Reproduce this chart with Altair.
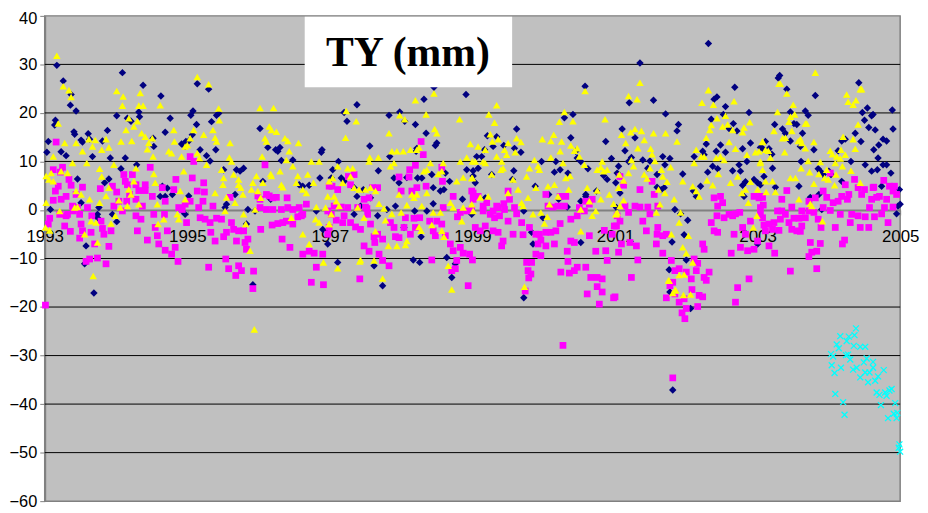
import altair as alt
import pandas as pd

# ---------------- data (year, TY mm) ----------------
navy = [
(1993.17,29.8),(1993.26,26.6),(1993.37,23.8),(1993.36,21.6),(1993.44,20.4),(1993.15,18.5),(1993.14,17.5),(1993.05,14.1),(1993.03,11.9),(1993.23,12.0),
(1993.30,11.2),(1993.41,16.1),(1993.42,15.6),(1993.51,14.4),(1993.53,14.0),(1993.61,15.7),(1993.63,14.6),(1993.67,11.0),(1993.81,14.2),(1993.88,16.4),
(1993.92,10.7),(1994.01,19.4),(1994.09,28.3),(1994.13,10.7),(1994.16,18.9),(1994.21,18.3),(1994.29,9.3),(1994.32,20.2),(1994.38,25.7),(1994.33,19.2),
(1994.53,13.1),(1994.52,14.8),(1994.63,23.5),(1994.69,16.0),(1994.76,18.9),(1994.92,13.6),(1994.98,14.1),(1993.46,6.4),(1993.51,1.5),(1993.08,0.1),
(1993.74,-0.9),(1993.76,0.5),(1993.74,-1.6),(1993.84,5.6),(1993.90,6.4),(1994.01,-2.4),(1993.95,-0.9),(1994.07,8.5),(1994.69,2.8),(1994.72,4.5),
(1994.65,4.9),(1994.79,3.2),(1994.97,-0.9),(1994.93,-0.2),(1993.58,-7.4),(1993.56,-11.1),(1993.69,-17.1),(1994.62,2.8),
(1995.14,26.0),(1995.30,24.9),(1995.08,20.4),(1995.05,19.5),(1995.44,19.9),(1995.41,19.5),(1995.13,17.6),(1995.34,18.2),(1995.07,15.5),(1995.02,14.2),
(1995.18,12.4),(1995.27,11.2),(1995.32,10.1),(1995.40,12.4),(1994.97,13.1),(1996.02,16.8),(1996.13,12.9),(1996.24,12.4),(1996.27,12.1),(1996.32,10.2),
(1996.30,12.9),(1996.48,10.3),(1996.89,12.4),(1996.88,11.9),(1996.86,6.6),(1995.69,8.3),(1995.74,8.0),(1995.51,8.3),(1995.67,3.2),(1995.55,1.2),
(1995.53,0.5),(1995.02,2.9),(1995.85,0.1),(1995.95,-0.2),(1995.83,-2.9),(1996.71,5.1),(1996.62,4.9),(1996.57,5.2),(1996.81,-0.2),(1996.90,-4.0),
(1996.97,-7.0),(1995.92,-15.4),(1996.06,5.9),(1996.17,2.2),(1995.79,8.6),
(1997.38,21.7),(1997.24,18.3),(1997.20,20.1),(1998.46,25.3),(1998.32,22.8),(1997.98,20.2),(1997.83,19.5),(1998.20,17.6),(1998.05,18.3),(1998.35,15.8),
(1998.50,13.8),(1998.48,13.3),(1998.91,23.8),(1997.56,13.2),(1997.84,11.0),(1998.22,12.7),(1998.21,12.1),(1997.68,8.1),(1997.12,10.0),(1997.04,8.3),
(1997.02,6.6),(1997.16,6.6),(1997.20,5.9),(1997.34,4.6),(1997.47,4.2),(1997.38,2.8),(1997.57,2.5),(1997.90,6.6),(1997.97,5.6),(1998.08,6.7),
(1998.23,6.6),(1998.29,6.6),(1998.43,7.3),(1998.45,4.6),(1998.62,7.6),(1998.68,5.9),(1998.55,3.9),(1998.60,4.2),(1998.86,2.2),(1998.92,8.3),
(1999.01,8.1),(1999.04,5.6),(1997.34,-0.9),(1997.43,0.8),(1997.67,-1.2),(1997.80,0.1),(1997.92,0.8),(1998.04,-3.6),(1998.19,-0.2),(1998.28,-5.5),
(1998.36,-0.2),(1998.45,1.3),(1997.11,-10.8),(1997.62,-11.5),(1997.74,-15.6),(1998.17,-10.3),(1998.26,-10.8),(1998.64,-9.8),(1998.76,-11.1),(1998.71,-13.9),
(2000.58,25.5),(1999.62,16.7),(1999.21,15.3),(1999.34,15.1),(1999.17,12.4),(1999.06,11.0),(1999.13,11.0),(1999.29,13.1),(1999.44,13.3),(1999.59,12.7),
(1999.68,11.9),(2000.38,14.9),(2000.29,19.0),(2000.41,19.7),(2000.87,14.1),(2000.95,10.6),(1999.97,10.0),(2000.17,10.0),(2000.23,8.3),(2000.47,10.7),
(2000.52,10.0),(2000.45,12.1),(2000.62,8.5),(2000.34,7.6),(2000.15,7.8),(1999.58,8.1),(1999.27,7.3),(1999.08,8.6),(1999.01,7.0),(1999.56,6.3),
(1999.88,4.9),(2000.07,3.2),(2000.21,2.2),(2000.33,0.6),(2000.59,3.2),(2000.74,3.9),(2000.84,7.1),(2000.89,6.3),(2001.01,5.6),(2001.03,7.6),
(2001.06,7.0),(1999.18,2.5),(1999.72,-0.2),(2000.52,1.8),(2000.59,2.8),(1999.99,-1.6),(1999.83,-4.6),(1999.85,-7.0),(2000.52,-6.7),(1998.99,-0.9),
(1999.72,-18.1),
(2001.35,30.3),(2002.31,34.3),(2001.20,22.1),(2001.54,22.6),(2001.71,19.8),(2001.89,17.6),(2001.87,16.3),(2002.68,25.3),(2002.43,23.3),(2002.39,22.8),
(2002.55,21.3),(2002.52,19.7),(2002.66,17.8),(2002.60,16.8),(2002.88,20.1),(2002.71,16.3),(2002.90,13.8),(2002.35,18.7),(2002.28,13.6),(2002.23,12.1),
(2002.42,12.1),(2002.48,13.4),(2002.55,11.9),(2002.79,12.6),(2002.25,11.4),(2002.11,11.0),(2002.85,10.0),(2003.04,12.9),(2001.10,16.7),(2001.28,14.9),
(2001.14,12.2),(2001.19,10.0),(2001.23,10.8),(2001.39,10.3),(2001.49,10.1),(2001.67,11.0),(2001.77,10.6),(2001.70,9.3),(2001.46,8.6),(2001.59,7.3),
(2001.65,4.2),(2001.59,4.7),(2001.95,7.4),(2001.84,0.1),(2001.92,-0.8),(2002.02,-2.1),(2001.69,4.6),(2002.20,4.9),(2002.10,3.9),(2002.14,2.8),
(2002.30,7.8),(2002.37,9.0),(2002.44,8.5),(2002.65,8.1),(2002.74,9.3),(2002.76,8.0),(2002.83,5.8),(2002.79,5.1),(2002.81,2.8),(2002.95,6.3),
(2003.00,5.6),(2001.05,9.0),(2001.07,3.5),(2001.02,0.5),(2001.80,-6.6),(2001.97,-5.1),(2002.00,-10.3),(2003.00,-7.0),(2001.77,-16.9),(2002.06,-20.3),
(2001.81,-37.1),(2001.76,-12.3),
(2003.31,27.7),(2003.29,27.2),(2003.41,24.9),(2003.81,23.6),(2004.42,26.2),(2004.54,21.0),(2004.47,20.1),(2004.50,18.5),(2004.60,19.4),(2004.62,19.7),
(2004.89,20.6),(2004.90,16.7),(2004.56,17.0),(2004.65,16.5),(2004.37,15.8),(2004.45,14.1),(2004.76,14.6),(2004.81,14.2),(2004.70,13.4),(2004.63,12.4),
(2004.69,10.7),(2004.51,9.3),(2004.60,8.0),(2004.68,8.3),(2004.76,9.3),(2004.81,9.3),(2004.87,7.6),(2004.74,4.9),(2004.99,4.2),(2004.97,0.8),
(2005.00,1.2),(2004.95,-0.8),(2003.46,20.2),(2003.67,20.4),(2003.71,19.5),(2003.51,17.8),(2003.55,17.6),(2003.24,17.6),(2003.35,16.7),(2003.39,15.8),
(2003.63,15.8),(2003.46,14.2),(2003.11,14.1),(2003.07,12.7),(2003.16,12.6),(2003.20,11.5),(2003.60,13.1),(2003.79,12.4),(2003.21,8.6),(2003.61,10.0),
(2003.85,8.5),(2003.88,8.0),(2003.92,7.3),(2004.13,12.2),(2004.18,14.2),(2004.23,14.6),(2004.31,10.0),(2004.18,5.9),(2003.09,6.9),(2003.04,5.2),
(2003.25,4.7),(2003.58,4.9),(2003.74,2.6),(2003.86,3.2),(2003.90,0.1),(2004.00,8.0),(2004.03,7.3),
]

yellow = [
(1993.17,31.8),(1993.26,25.5),(1993.34,24.7),(1993.37,23.3),(1993.19,17.8),(1993.12,11.0),(1993.02,7.0),(1993.09,7.6),(1993.06,6.3),(1993.12,5.9),
(1993.23,8.0),(1993.28,13.8),(1993.32,7.6),(1993.39,9.7),(1993.44,13.8),(1993.53,12.1),(1993.59,9.7),(1993.62,14.6),(1993.67,13.1),(1993.71,14.4),
(1993.80,12.4),(1993.86,14.6),(1993.90,12.9),(1993.77,8.5),(1993.80,6.9),(1993.97,9.3),(1994.01,24.5),(1994.10,23.4),(1994.09,21.5),(1994.07,14.1),
(1994.14,16.5),(1994.18,18.9),(1994.22,14.2),(1994.25,17.2),(1994.30,18.3),(1994.34,24.1),(1994.32,21.5),(1994.38,21.5),(1994.36,15.8),(1994.41,15.1),
(1994.44,12.5),(1994.46,13.8),(1994.51,14.8),(1994.52,11.0),(1994.62,21.6),(1994.74,12.1),(1994.78,11.7),(1994.81,16.5),(1994.82,14.1),(1994.92,11.0),
(1994.97,13.1),(1994.95,8.0),(1994.25,5.9),(1994.28,8.6),(1994.18,4.2),(1994.04,2.0),(1993.90,4.6),(1993.86,2.9),(1993.77,1.5),(1993.63,2.2),
(1993.51,3.2),(1993.44,3.9),(1993.42,0.5),(1993.46,0.6),(1993.21,-0.2),(1993.02,1.5),(1993.01,-3.6),(1993.65,-2.3),(1993.72,-2.6),(1993.93,-2.8),
(1993.99,-1.2),(1994.06,0.5),(1994.16,0.8),(1994.21,3.2),(1994.32,1.2),(1994.55,5.6),(1994.58,1.2),(1994.59,-2.9),(1994.67,-1.9),(1994.86,-0.9),
(1994.88,-1.9),(1994.97,2.2),(1994.90,3.9),(1993.56,-5.0),(1993.74,-6.7),(1993.68,-13.6),(1993.07,-4.2),(1994.53,7.4),
(1995.14,27.4),(1995.30,25.9),(1995.44,20.9),(1995.45,18.5),(1995.09,16.5),(1995.23,15.5),(1995.36,16.5),(1995.39,14.9),(1995.04,14.8),(1995.00,13.4),
(1995.14,11.7),(1995.17,10.7),(1995.27,9.3),(1995.41,14.1),(1995.60,13.8),(1995.59,10.8),(1995.62,10.0),(1995.48,8.3),(1995.51,6.6),(1995.50,5.2),
(1995.39,3.5),(1995.55,2.6),(1995.67,1.5),(1995.65,7.3),(1995.72,6.3),(1995.75,4.6),(1995.78,3.2),(1995.72,5.2),(1996.02,21.0),(1996.21,21.0),
(1996.15,17.2),(1996.18,16.5),(1996.25,16.1),(1996.09,14.8),(1996.11,14.1),(1996.37,14.8),(1996.41,14.2),(1996.43,12.1),(1996.56,13.8),(1996.39,10.3),
(1996.48,9.0),(1996.55,7.0),(1996.53,5.6),(1996.30,8.0),(1996.32,5.2),(1996.18,7.0),(1996.17,7.4),(1996.05,11.0),(1995.97,7.0),(1995.92,5.6),
(1995.90,4.2),(1995.99,3.9),(1996.06,5.6),(1996.03,2.5),(1996.34,4.7),(1996.62,4.2),(1996.67,3.5),(1996.69,7.3),(1996.74,10.0),(1996.85,10.0),
(1996.77,5.6),(1996.81,0.6),(1996.80,-1.9),(1996.85,-2.6),(1996.94,0.5),(1996.97,2.8),(1996.99,-2.9),(1997.02,-0.9),(1996.46,-1.6),(1996.62,-5.0),
(1996.71,-7.0),(1996.91,-10.8),(1995.79,-0.9),(1995.82,-2.9),(1995.95,0.1),(1995.88,-8.4),(1995.53,-0.2),(1995.94,-24.6),
(1998.46,24.0),(1998.20,22.6),(1998.35,19.7),(1997.98,19.5),(1998.05,18.7),(1997.23,20.4),(1997.37,18.3),(1998.82,18.7),(1997.83,15.8),(1998.47,16.7),
(1998.50,15.8),(1998.25,12.9),(1997.22,14.9),(1997.56,10.8),(1997.68,10.8),(1997.55,10.0),(1997.87,12.1),(1997.94,12.1),(1998.03,12.1),(1998.13,12.4),
(1998.22,12.4),(1998.97,13.6),(1998.92,10.8),(1998.83,10.0),(1999.00,10.0),(1997.25,8.6),(1997.32,8.6),(1997.29,6.9),(1997.11,9.0),(1997.04,6.6),
(1996.99,5.9),(1997.18,5.6),(1997.34,4.6),(1997.41,4.2),(1997.50,4.2),(1997.57,4.6),(1997.64,3.9),(1997.85,9.0),(1997.90,9.7),(1998.41,9.7),
(1998.36,8.3),(1998.32,8.0),(1998.59,9.7),(1998.57,8.0),(1998.52,7.4),(1998.78,5.9),(1998.87,6.7),(1999.00,6.6),(1997.97,3.2),(1998.18,2.5),
(1998.15,3.2),(1998.22,3.2),(1998.36,3.5),(1998.08,1.0),(1998.29,0.8),(1998.45,-0.5),(1998.55,-0.5),(1998.69,1.5),(1998.73,0.5),(1998.87,0.5),
(1998.99,1.2),(1997.06,2.8),(1997.09,1.8),(1997.13,0.8),(1997.39,0.5),(1997.69,1.3),(1997.76,0.3),(1997.87,-0.8),(1998.00,-0.5),(1996.99,-2.9),
(1997.48,-1.6),(1997.78,-2.1),(1998.25,-3.5),(1998.28,-4.3),(1998.43,-3.1),(1998.57,-4.3),(1998.60,-5.5),(1998.85,-2.3),(1997.64,-4.4),(1997.82,-7.4),
(1997.94,-7.4),(1998.08,-6.4),(1998.06,-7.2),(1997.43,-10.3),(1997.42,-10.6),(1997.11,-12.0),(1997.62,-10.4),(1997.74,-14.1),(1998.71,-16.4),(1998.66,-11.5),
(2000.58,24.5),(1999.34,21.6),(1999.23,19.7),(1999.31,18.0),(2000.29,20.2),(2000.22,18.2),(2000.41,18.3),(2000.86,18.7),(1999.25,15.6),(1999.28,14.1),
(1999.36,14.6),(1999.08,13.1),(1999.18,12.4),(1999.45,12.4),(1999.50,13.8),(1999.62,14.8),(1999.68,14.0),(1999.60,11.9),(1999.48,11.4),(1999.34,11.0),
(1999.15,10.0),(1999.18,9.7),(1999.04,10.0),(1999.41,10.0),(1999.43,8.6),(1999.40,8.3),(1999.98,14.6),(2000.10,14.2),(2000.14,15.5),(2000.23,12.1),
(2000.25,14.1),(2000.10,10.8),(2000.38,13.3),(2000.43,12.2),(2000.47,12.7),(2000.50,11.0),(2000.57,9.3),(1999.87,10.3),(1999.80,8.6),(1999.76,6.9),
(1999.92,9.0),(1999.94,8.3),(1999.57,6.3),(1999.27,7.3),(1998.99,6.6),(1999.64,4.2),(1999.50,3.5),(1999.22,2.8),(1999.11,2.6),(1999.01,-0.2),
(1999.69,1.5),(1999.78,2.5),(1999.71,0.8),(1999.89,4.6),(2000.06,4.9),(2000.15,5.2),(2000.27,9.7),(2000.31,6.6),(2000.37,7.0),(2000.35,4.2),
(2000.20,2.8),(2000.08,1.2),(1999.96,-0.5),(2000.05,-1.4),(2000.01,-2.8),(1999.85,-0.9),(2000.52,0.1),(2000.61,4.6),(2000.64,1.8),(2000.73,-0.2),
(2000.68,-1.2),(2000.75,8.3),(2000.80,8.8),(2000.82,10.0),(2000.84,8.0),(2000.89,8.3),(2000.75,4.0),(2000.80,2.2),(2000.92,3.2),(2000.98,1.3),
(2001.01,-0.9),(2001.03,-0.5),(2000.52,-4.4),(1999.73,-15.8),
(2001.35,26.2),(2001.19,23.5),(2001.31,22.8),(2002.31,24.7),(2002.22,22.1),(2002.38,21.7),(2002.67,22.4),(2002.43,18.9),(2002.55,19.4),(2002.35,17.5),
(2002.51,17.2),(2002.58,17.6),(2002.65,16.5),(2002.81,17.0),(2002.89,18.1),(2002.79,16.0),(2002.33,16.5),(2002.28,14.9),(2002.14,12.4),(2002.21,11.0),
(2002.25,11.0),(2002.11,9.7),(2002.42,10.7),(2002.48,11.0),(2002.53,10.3),(2002.60,14.0),(2002.69,12.6),(2002.85,11.4),(2002.97,11.9),(2003.02,12.1),
(2003.07,14.0),(2003.04,9.7),(2001.09,15.5),(2001.22,16.0),(2001.28,16.7),(2001.37,16.3),(2001.41,14.4),(2001.54,15.8),(2001.71,15.8),(2001.87,14.1),
(2001.15,13.8),(2001.32,12.7),(2001.50,12.6),(2001.52,11.5),(2001.56,10.1),(2001.23,10.3),(2001.26,9.0),(2001.19,7.6),(2001.06,7.3),(2001.12,6.1),
(2001.41,7.3),(2001.45,6.5),(2001.49,8.6),(2001.65,8.3),(2001.67,6.9),(2001.73,5.8),(2001.78,8.8),(2001.61,4.2),(2001.70,3.5),(2001.95,5.9),
(2002.09,4.9),(2002.14,3.9),(2002.18,2.8),(2002.29,6.1),(2002.37,5.1),(2002.45,7.4),(2002.62,5.6),(2002.72,6.9),(2002.78,3.5),(2002.83,4.2),
(2002.90,5.8),(2003.00,4.2),(2002.87,1.5),(2001.12,2.0),(2001.07,0.8),(2001.02,-0.8),(2001.05,4.6),(2001.63,1.2),(2001.58,-0.5),(2001.83,2.2),
(2001.92,-0.5),(2001.90,-2.6),(2001.79,-5.0),(2002.03,-5.3),(2001.95,-7.7),(2002.00,-8.9),(2002.09,-10.8),(2001.97,-13.3),(2001.75,-14.5),(2001.84,-16.6),
(2002.06,-17.4),(2001.81,-17.1),(2002.99,-1.2),(2002.94,-3.6),(2001.76,-14.6),(2001.85,-16.5),(2001.96,-17.5),(2001.90,-13.4),
(2003.81,28.3),(2003.30,26.0),(2003.32,26.0),(2003.41,24.0),(2004.25,23.8),(2004.27,22.3),(2004.34,21.7),(2004.38,22.6),(2004.44,24.9),(2004.46,24.9),
(2003.50,21.7),(2003.28,20.2),(2003.46,19.2),(2003.44,18.2),(2003.52,19.7),(2003.69,17.8),(2003.67,17.8),(2003.23,16.3),(2003.48,16.3),(2003.35,14.8),
(2003.39,14.9),(2003.57,14.2),(2003.60,14.6),(2003.62,13.8),(2003.79,14.0),(2004.20,15.1),(2004.41,17.6),(2004.34,14.6),(2004.37,12.6),(2003.07,14.1),
(2003.11,12.4),(2003.15,12.2),(2003.18,10.8),(2003.38,11.9),(2003.67,12.7),(2003.71,10.1),(2003.88,9.9),(2004.02,12.2),(2004.05,11.5),(2004.11,11.0),
(2004.17,12.4),(2004.16,10.6),(2004.23,11.4),(2004.09,9.7),(2003.04,10.0),(2003.07,8.3),(2003.61,8.6),(2003.73,7.8),(2003.86,7.4),(2003.97,8.3),
(2004.10,7.3),(2004.19,9.0),(2004.31,8.1),(2003.46,6.6),(2003.53,6.6),(2003.79,5.4),(2003.94,6.6),(2003.99,6.3),(2004.08,5.1),(2004.44,5.6),
(2003.11,5.9),(2003.21,5.9),(2003.12,3.7),(2003.25,3.7),(2003.58,2.2),(2003.76,0.8),(2003.74,1.3),(2003.91,-2.3),
]

magenta = [
(1993.16,14.0),(1993.01,-19.6),(1993.25,8.8),(1993.12,8.3),(1993.22,7.8),(1993.34,6.3),(1993.37,5.1),(1993.19,4.9),(1993.15,3.9),(1993.30,2.8),
(1993.23,2.2),(1993.12,2.0),(1993.39,0.8),(1993.40,-0.2),(1993.32,-0.9),(1993.30,-1.2),(1993.21,-0.9),(1993.07,-1.7),(1993.05,-2.9),(1993.28,-3.3),
(1993.36,-4.4),(1993.44,3.2),(1993.53,4.7),(1993.46,0.5),(1993.49,-0.9),(1993.51,-2.9),(1993.53,-4.3),(1993.49,-5.8),(1993.60,0.5),(1993.66,-1.2),
(1993.65,-4.6),(1993.70,-7.0),(1993.63,-10.1),(1993.58,-10.6),(1993.74,-9.9),(1993.86,-11.1),(1993.79,-2.3),(1993.81,-3.8),(1993.83,-5.0),(1993.90,-7.5),
(1993.93,-4.3),(1993.78,4.4),(1993.95,4.9),(1994.01,3.7),(1994.04,1.8),(1993.97,0.8),(1994.09,-0.2),(1994.15,1.8),(1994.19,3.2),(1994.16,5.2),
(1994.11,7.3),(1994.13,5.9),(1994.23,7.3),(1994.28,5.2),(1994.28,2.2),(1994.28,-1.2),(1994.30,-4.3),(1994.35,-1.9),(1994.32,4.0),(1994.41,5.2),
(1994.41,4.0),(1994.37,0.8),(1994.48,8.8),(1994.51,2.8),(1994.53,-0.9),(1994.55,-3.6),(1994.58,-5.3),(1994.60,-7.0),(1994.44,-6.2),(1994.65,4.6),
(1994.69,1.8),(1994.68,-0.9),(1994.72,-4.3),(1994.69,-8.3),(1994.78,-9.1),(1994.83,-7.7),(1994.87,-10.6),(1994.81,4.2),(1994.84,6.3),(1994.88,0.5),
(1994.93,0.1),(1994.97,1.2),(1994.99,-2.6),
(1995.04,11.0),(1995.09,10.0),(1995.07,6.6),(1995.14,3.9),(1995.23,5.6),(1995.24,3.7),(1995.22,1.8),(1995.36,0.8),(1995.04,1.8),(1995.16,0.5),
(1995.18,-1.6),(1995.25,-1.9),(1995.32,-2.6),(1995.41,-1.7),(1995.48,-1.9),(1995.33,-4.6),(1995.39,-6.4),(1995.55,-4.6),(1995.51,-5.5),(1995.62,-2.6),
(1995.65,-4.0),(1995.72,-4.3),(1995.79,-4.3),(1995.69,-6.4),(1995.81,-6.7),(1995.85,-6.0),(1995.83,-8.1),(1995.30,-11.8),(1995.54,-10.1),(1995.58,-12.1),
(1995.72,-11.5),(1995.68,-13.5),(1995.76,-12.5),(1995.93,-12.6),(1995.92,-16.2),(1995.60,2.6),(1996.02,2.2),(1996.09,9.3),(1995.99,2.9),(1996.11,3.2),
(1996.15,2.9),(1996.20,2.5),(1996.25,2.6),(1996.40,2.5),(1996.02,0.5),(1996.11,0.1),(1996.20,0.1),(1996.32,0.1),(1996.41,0.5),(1996.48,0.1),
(1996.57,0.5),(1996.67,1.2),(1996.27,-2.8),(1996.34,-2.6),(1996.39,-2.3),(1996.48,-2.9),(1996.55,-1.4),(1996.03,-4.0),(1996.19,-3.1),(1996.33,-6.0),
(1996.44,-7.7),(1996.60,-1.2),(1996.62,-9.1),(1996.71,-8.5),(1996.78,-8.9),(1996.90,-9.1),(1996.81,-11.8),(1996.74,-14.9),(1996.91,-15.4),(1996.97,-0.2),
(1996.99,-3.6),(1996.97,-5.0),(1996.62,-0.9),(1996.99,4.9),
(1998.28,14.1),(1998.31,11.4),(1998.20,9.2),(1998.12,8.3),(1997.97,6.8),(1998.11,6.8),(1998.22,4.6),(1998.35,4.9),(1998.00,3.9),(1998.15,3.9),
(1998.57,8.8),(1998.58,5.9),(1998.73,2.8),(1997.03,4.9),(1997.26,6.9),(1997.34,7.3),(1997.29,5.2),(1997.11,4.2),(1997.48,2.2),(1997.55,2.5),
(1997.67,4.6),(1997.60,4.6),(1997.06,0.8),(1997.16,0.6),(1997.25,0.5),(1997.39,0.5),(1997.52,0.3),(1997.02,-0.9),(1997.20,-1.2),(1997.09,-2.1),
(1997.18,-2.6),(1997.29,-2.6),(1997.36,-3.5),(1997.43,-4.0),(1997.50,0.6),(1997.53,-0.9),(1997.57,-2.9),(1997.67,-5.0),(1997.62,-5.5),(1997.63,-6.7),
(1997.74,-6.0),(1997.48,-7.4),(1997.55,-8.5),(1997.69,-9.1),(1997.74,-10.4),(1997.83,-11.5),(1997.42,-14.2),(1997.85,-2.6),(1997.90,-3.6),(1997.92,-5.5),
(1997.97,-5.7),(1998.04,-3.6),(1998.13,-5.0),(1998.20,-3.6),(1998.06,-1.6),(1998.18,-1.7),(1998.26,-1.6),(1998.40,-2.3),(1998.45,-4.3),(1998.50,-2.3),
(1998.57,-2.9),(1998.62,-5.3),(1998.48,-5.3),(1998.43,-10.3),(1998.59,0.5),(1998.79,-1.4),(1998.83,-0.5),(1998.92,-0.2),(1998.99,0.1),(1999.01,3.5),
(1998.69,-7.0),(1998.73,-8.4),(1998.83,-7.7),(1998.87,-8.9),(1998.96,-9.1),(1999.00,-10.3),(1998.76,-12.1),(1998.71,-12.5),(1998.94,-15.6),(1998.78,-10.4),
(1998.99,3.9),(1999.01,2.2),(1999.08,2.8),(1999.15,0.8),(1999.20,1.5),(1999.15,-0.2),(1999.25,-0.9),(1999.29,-0.2),(1999.31,-1.6),(1999.38,-1.2),
(1999.36,0.5),(1999.34,0.8),(1999.45,0.1),(1999.50,-2.3),(1999.44,1.3),(1999.50,3.9),(1999.52,2.2),(1999.59,0.5),(1999.62,-0.8),(1999.69,-2.6),
(1999.04,-3.6),(1999.11,-4.3),(1999.18,-3.3),(1999.29,-4.3),(1999.36,-4.6),(1999.43,-6.4),(1999.41,-7.4),(1999.57,-5.0),(1999.71,-5.1),(1999.80,-3.6),
(2000.03,3.2),(2000.06,0.8),(2000.13,0.6),(2000.20,0.8),(2000.23,2.8),(2000.31,2.8),(2000.29,0.8),(2000.38,-1.9),(2000.47,-1.2),(2000.50,0.5),
(2000.57,-0.2),(2000.64,1.2),(2000.68,2.2),(2000.59,1.8),(1999.89,-5.0),(1999.94,-5.0),(2000.03,-4.6),(2000.10,-4.6),(2000.17,-4.3),(2000.23,-2.8),
(1999.96,-6.2),(2000.03,-7.4),(2000.15,-7.0),(1999.92,-7.0),(1999.89,-9.1),(1999.96,-9.4),(1999.76,-10.8),(1999.83,-10.8),(1999.78,-12.5),(1999.82,-13.2),
(1999.79,-14.0),(1999.74,-16.7),(2000.38,-6.4),(2000.43,-6.7),(2000.33,-8.5),(2000.34,-10.6),(2000.24,-12.8),(2000.36,-13.0),(2000.43,-12.5),(2000.47,-11.8),
(2000.59,-11.8),(2000.64,-5.3),(2000.73,-8.5),(2000.87,-8.4),(2000.89,-10.4),(2000.99,-3.3),(2000.96,-5.0),(2001.03,-1.2),(2000.66,-13.9),(2000.75,-13.9),
(2000.82,-14.2),(2000.75,-15.8),(2000.82,-16.9),(2000.61,-17.3),(2000.78,-19.4),(2000.98,-18.1),(2000.85,-4.2),(2000.27,-27.9),
(2001.07,6.9),(2001.12,5.1),(2001.35,4.2),(2001.52,5.9),(2001.55,3.2),(2001.14,0.8),(2001.19,-0.5),(2001.28,0.8),(2001.35,0.6),(2001.46,0.6),
(2001.49,-0.8),(2001.60,0.8),(2001.07,-2.3),(2001.02,-3.3),(2001.39,-2.3),(2001.44,-4.3),(2001.60,-3.6),(2001.59,-5.0),(2001.67,-5.3),(2001.72,-5.0),
(2001.09,-7.0),(2001.21,-6.7),(2001.30,-7.4),(2001.58,-7.0),(2001.05,-8.7),(2001.32,-10.3),(2001.67,-8.9),(2001.79,-10.4),(2001.84,-12.5),(2001.90,-12.1),
(2002.00,-12.8),(2002.11,-10.1),(2002.16,-11.0),(2002.14,-12.5),(2002.07,-14.2),(2002.25,-13.9),(2002.32,-12.8),(2002.28,-14.5),(2002.18,-17.6),(2002.23,-17.9),
(2002.08,-16.4),(2001.97,-18.3),(2001.90,-19.0),(2001.77,-15.6),(2001.81,-14.9),(2001.84,-17.3),(2001.72,-18.1),(2001.23,-13.9),(2001.00,-17.9),(2002.00,-20.3),
(2002.39,2.5),(2002.44,0.8),(2002.48,2.8),(2002.51,1.5),(2002.43,-1.2),(2002.53,-1.6),(2002.60,-0.9),(2002.65,-1.2),(2002.69,-0.8),(2002.75,-0.5),
(2002.35,-2.6),(2002.39,-4.3),(2002.44,-4.6),(2002.67,-5.0),(2002.79,-3.6),(2002.83,-5.0),(2002.90,-2.3),(2002.76,-7.7),(2002.86,-8.4),(2002.95,-8.1),
(2002.63,-8.9),(2002.23,-7.0),(2002.25,-8.1),(2002.88,-14.2),(2002.72,-16.0),(2002.69,-19.0),(2002.95,2.8),(2003.02,2.5),(2003.04,0.5),(2003.07,-1.6),
(2003.00,-6.4),(2001.81,-34.6),(2001.94,-21.2),(2001.98,-22.4),(2002.16,-19.9),
(2004.36,6.3),(2004.77,6.1),(2004.02,7.6),(2004.23,5.2),(2003.92,3.9),(2003.97,2.6),(2003.81,2.5),(2003.72,1.8),(2003.41,4.0),(2003.34,2.2),
(2003.07,2.6),(2003.04,2.8),(2003.08,1.0),(2003.28,-0.2),(2003.34,-0.2),(2003.39,-0.9),(2003.48,0.6),(2003.62,-0.2),(2003.67,-1.6),(2003.51,-1.7),
(2003.44,-2.6),(2003.32,-1.9),(2003.23,-2.6),(2003.16,-2.9),(2003.09,-3.1),(2003.04,-0.9),(2003.11,-4.3),(2003.21,-4.0),(2003.30,-4.2),(2003.48,-4.0),
(2003.55,-4.3),(2003.60,-4.4),(2003.62,-3.3),(2003.58,-1.7),(2003.72,-0.2),(2003.79,-0.5),(2003.85,-1.9),(2003.89,-3.6),(2003.92,0.5),(2004.02,-0.1),
(2004.06,1.5),(2004.13,1.8),(2004.18,2.8),(2004.28,3.2),(2004.26,2.2),(2004.16,-0.9),(2004.32,-0.9),(2004.30,-2.6),(2004.41,-1.2),(2004.44,-3.6),
(2004.51,-1.4),(2004.56,-3.6),(2004.57,0.5),(2004.64,-1.4),(2004.74,-0.8),(2004.78,0.5),(2004.83,-2.6),(2004.90,0.6),(2004.41,4.6),(2004.46,3.2),
(2004.50,4.2),(2004.60,2.2),(2004.62,4.6),(2004.67,2.6),(2004.71,2.8),(2004.81,2.2),(2004.90,3.9),(2004.95,3.2),(2004.85,4.9),(2004.92,4.9),
(2004.63,4.7),(2003.16,-7.4),(2003.24,-8.9),(2003.74,-6.7),(2003.88,-6.9),(2003.72,-9.6),(2003.76,-8.7),(2003.83,-8.5),(2004.19,-7.0),(2004.22,-6.2),
(2003.46,-12.6),(2003.83,-12.1),(2004.09,-3.6),
]

cyan = [
(2004.38,-24.4),(2004.16,-26.0),(2004.28,-26.1),(2004.36,-25.8),(2004.25,-27.0),(2004.11,-27.7),(2004.14,-28.5),(2004.35,-28.0),(2004.44,-28.2),(2004.51,-28.2),
(2004.03,-29.7),(2004.06,-30.2),(2004.24,-29.9),(2004.27,-29.8),(2004.30,-30.8),(2004.53,-30.6),(2004.62,-31.3),(2004.49,-31.4),(2004.04,-32.0),(2004.17,-32.5),
(2004.39,-32.5),(2004.34,-32.9),(2004.62,-32.5),(2004.08,-33.6),(2004.77,-33.0),(2004.57,-33.5),(2004.51,-33.5),(2004.69,-34.3),(2004.44,-34.5),(2004.65,-35.2),
(2004.55,-35.5),(2004.67,-37.6),(2004.71,-38.1),(2004.79,-37.6),(2004.85,-37.2),(2004.88,-36.9),(2004.81,-38.3),(2004.09,-37.9),(2004.20,-39.6),(2004.73,-40.2),
(2004.93,-39.8),(2004.22,-42.2),(2004.83,-42.9),(2004.91,-42.0),(2004.95,-42.9),(2004.96,-41.8),(2004.99,-48.3),(2005.00,-49.8),(2004.98,-49.0),
]

y_ticks = [-60, -50, -40, -30, -20, -10, 0, 10, 20, 30, 40]
x_ticks = [1993, 1995, 1997, 1999, 2001, 2003, 2005]
grid_vals = [-50, -40, -30, -20, -10, 10, 20, 30]
title_text = "TY (mm)"

# ---------------- chart ----------------
W, H = 862, 489
xs = alt.Scale(domain=[1993, 2005], nice=False, zero=False)
ys = alt.Scale(domain=[-60, 40], nice=False, zero=False)
zero_offset = -(H * 60 / 100)   # x axis crosses at y = 0

x_axis = alt.Axis(
    values=x_ticks, format="d", title=None, grid=False, offset=zero_offset,
    domainColor="#808080", domainWidth=2, tickColor="#808080", tickSize=5,
    labelFont="Liberation Sans", labelFontSize=17, labelColor="black",
    labelPadding=14, labelFlush=False, labelOverlap=False)
y_axis = alt.Axis(
    values=y_ticks, title=None, grid=False,
    domainColor="#808080", domainWidth=2, tickColor="#808080", tickSize=5,
    labelFont="Liberation Sans", labelFontSize=16.5, labelColor="black",
    labelPadding=3, labelFlush=False, labelOverlap=False,
    labelOffset={"condition": {"test": "datum.value == 40", "value": 2.5}, "value": 0})

X = alt.X("year:Q", scale=xs, axis=x_axis)
Y = alt.Y("value:Q", scale=ys, axis=y_axis)


def frame(pts):
    return pd.DataFrame(pts, columns=["year", "value"])


grid = alt.Chart(pd.DataFrame({"value": grid_vals})).mark_rule(
    color="black", strokeWidth=1
).encode(y=Y)

nav = alt.Chart(frame(navy)).mark_point(
    shape="diamond", filled=True, color="#000080", size=56, opacity=1
).encode(x=X, y=Y)

mag = alt.Chart(frame(magenta)).mark_square(
    color="#FF00FF", size=46, opacity=1
).encode(x=X, y=Y)

yel = alt.Chart(frame(yellow)).mark_point(
    shape="triangle-up", filled=True, color="#FFFF00", size=58, opacity=1
).encode(x=X, y=Y)

cya = alt.Chart(frame(cyan)).mark_point(
    shape="M-1,-1L1,1M-1,1L1,-1", filled=False, color="#00FFFF", size=36,
    strokeWidth=1.3, opacity=1
).encode(x=X, y=Y)

tdf = pd.DataFrame({"t": [title_text]})
box = alt.Chart(tdf).mark_rect(color="white").encode(
    x=alt.value(262), x2=alt.value(471), y=alt.value(1), y2=alt.value(72)
)
label = alt.Chart(tdf).mark_text(
    font="Liberation Serif", fontWeight="bold", fontSize=42, color="black",
    align="center", baseline="middle"
).encode(text="t:N", x=alt.value(366), y=alt.value(38))

chart = alt.layer(grid, nav, mag, yel, cya, box, label).properties(
    width=W, height=H,
    autosize=alt.AutoSizeParams(type="none"),
    padding={"left": 37, "top": 6, "right": 20, "bottom": 8},
    background="white",
).configure_view(fill="#C0C0C0", stroke="#808080", strokeWidth=1.5)

chart.save("out.html", embed_options={"renderer": "svg", "actions": False})
